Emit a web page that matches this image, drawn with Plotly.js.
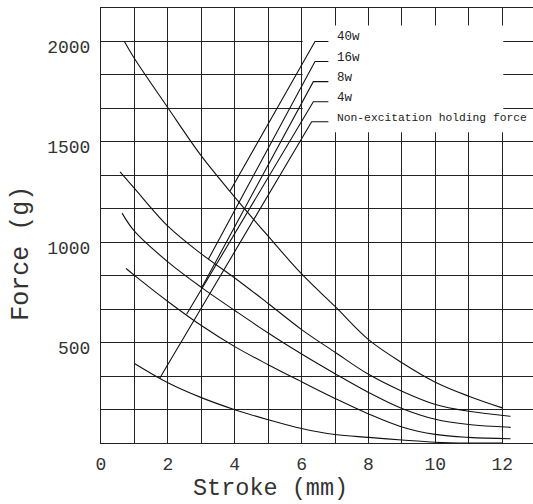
<!DOCTYPE html>
<html>
<head>
<meta charset="utf-8">
<script src="https://cdn.plot.ly/plotly-3.0.1.min.js"></script>
<style>html,body{margin:0;padding:0;background:#fff;}#chart{width:533px;height:504px;}</style>
</head>
<body>
<div id="chart"></div>
<script>
// ---- data ----
const xTickVals = [0,1,2,3,4,5,6,7,8,9,10,11,12];
const xTickText = ['0','','2','','4','','6','','8','','10','','12'];
const yCell = 500/3;
const yTickVals = [0,1,2,3,4,5,6,7,8,9,10,11,12,13].map(k => k*yCell);
const yTickText = ['','','','500','','','1000','','','1500','','','2000',''];

const xTitle = 'Stroke (mm)';
const yTitle = 'Force (g)';

const c40x = [0.7,1,2,3,4,5,6,7,8,9,10,11,12];
const c40y = [2000,1915,1670,1430,1225,1030,842,680,515,400,303,233,175];
const c16x = [0.57,1,2,3,4,5,6,7,8,9,10,11,12.25];
const c16y = [1350,1268,1080,942,822,695,565,452,342,258,192,158,133];
const c8x  = [0.63,1,2,3,4,5,6,7,8,9,10,11,12.25];
const c8y  = [1145,1055,902,775,660,548,443,345,252,172,118,92,78];
const c4x  = [0.75,1,2,3,4,5,6,7,8,9,10,11,12.25];
const c4y  = [869,835,705,585,480,390,305,222,145,80,43,28,21];
const c0x  = [1,2,3,4,5,6,7,8,9,10,11,12];
const c0y  = [396,300,226,166,116,72,42,28,15,4,0,0];

const ldrLabels = ['40w','16w','8w','4w','Non-excitation holding force'];
const ldrY      = [2000,1900,1800,1700,1600];
const ldrTopX   = [6.40,6.40,6.35,6.35,6.30];
const ldrEndX   = [6.80,6.80,6.80,6.80,6.80];
const ldrFootX  = [3.86,3.21,3.01,2.56,1.76];
const ldrFootY  = [1255,915,773,641,324];
const labelX    = 6.98;

// ---- build ----
const ink = '#111';
const mono = 'Liberation Mono, DejaVu Sans Mono, monospace';
const curves = [[c40x,c40y],[c16x,c16y],[c8x,c8y],[c4x,c4y],[c0x,c0y]];
const traces = curves.map(c => ({
  x: c[0], y: c[1], type: 'scatter', mode: 'lines',
  line: {color: ink, width: 1.1, shape: 'spline', smoothing: 1.0},
  hoverinfo: 'skip', showlegend: false
}));
ldrLabels.forEach((t,i) => {
  traces.push({
    x: [ldrFootX[i], ldrTopX[i], ldrEndX[i]],
    y: [ldrFootY[i], ldrY[i], ldrY[i]],
    type: 'scatter', mode: 'lines',
    line: {color: ink, width: 1.1},
    hoverinfo: 'skip', showlegend: false
  });
});

const annotations = ldrLabels.map((t,i) => {
  const last = i === ldrLabels.length-1;
  return {
    x: labelX, y: ldrY[i], xref: 'x', yref: 'y',
    text: t, showarrow: false, xanchor: 'left', yanchor: 'middle', yshift: 4,
    font: {family: mono, size: last ? 11.3 : 12.5, color: '#222'},
    bgcolor: last ? '#fff' : 'rgba(0,0,0,0)', borderpad: 2
  };
});
annotations.push({
  x: 0.3935, y: -0.1055, xref: 'paper', yref: 'paper', xanchor: 'center', yanchor: 'middle',
  text: xTitle, showarrow: false, font: {family: mono, size: 23.5, color: '#333'}, borderpad: 0
});
annotations.push({
  x: -0.183, y: 0.437, xref: 'paper', yref: 'paper', xanchor: 'center', yanchor: 'middle',
  text: yTitle, textangle: -90, showarrow: false, font: {family: mono, size: 25, color: '#333'}
});

const gridColor = '#222';
const layout = {
  width: 533, height: 504,
  margin: {l: 101, r: 0, t: 8, b: 61},
  paper_bgcolor: '#fff', plot_bgcolor: '#fff',
  font: {family: mono, color: '#333'},
  xaxis: {
    range: [0, 12.92], tickmode: 'array', tickvals: xTickVals, ticktext: xTickText,
    showgrid: true, gridcolor: gridColor, gridwidth: 1, zeroline: false,
    showline: true, linecolor: gridColor, linewidth: 1, mirror: true,
    ticks: '', ticklabelstandoff: 4,
    tickfont: {size: 18, color: '#333'}
  },
  yaxis: {
    range: [0, 13*yCell], tickmode: 'array', tickvals: yTickVals, ticktext: yTickText,
    showgrid: true, gridcolor: gridColor, gridwidth: 1, zeroline: false,
    showline: true, linecolor: gridColor, linewidth: 1,
    ticks: '', ticklabelstandoff: 6, ticklabelshift: 5,
    tickfont: {size: 18, color: '#333'}
  },
  shapes: [{
    type: 'rect', xref: 'x', yref: 'y', x0: 6.03, x1: 12.03, y0: 1548, y1: 2079,
    fillcolor: '#fff', line: {width: 0}, layer: 'between'
  }],
  annotations: annotations
};

Plotly.newPlot('chart', traces, layout, {staticPlot: true, displayModeBar: false});
</script>
</body>
</html>
